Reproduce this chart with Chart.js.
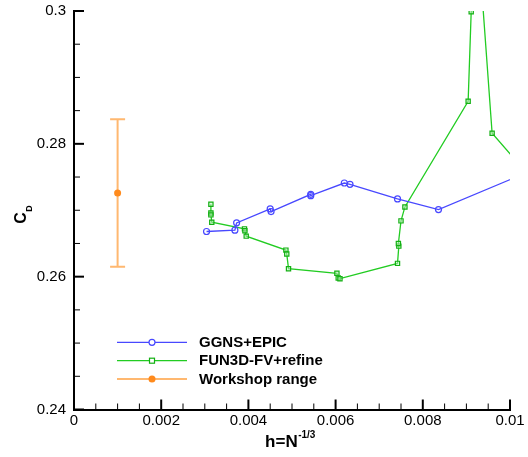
<!DOCTYPE html>
<html>
<head>
<meta charset="utf-8">
<script src="https://cdn.jsdelivr.net/npm/chart.js@4.4.1/dist/chart.umd.min.js"></script>
<style>
  html, body { margin: 0; padding: 0; background: #fff; }
</style>
</head>
<body>
<canvas id="cdChart" width="528" height="457"></canvas>
<script>
// grid spacing h = N^-1/3 and drag coefficient, one pair of arrays per solver
var ggnsH  = [0.00304, 0.00369, 0.00373, 0.00450, 0.00452, 0.00543, 0.00543, 0.00620, 0.00633, 0.00742, 0.00836, 0.01200];
var ggnsCd = [0.2668, 0.2670, 0.2681, 0.2702, 0.2698, 0.2724, 0.2722, 0.2741, 0.2739, 0.2717, 0.2701, 0.2801];

var fun3dH  = [0.00314, 0.00314, 0.00314, 0.00316, 0.00391, 0.00392, 0.00395, 0.00486, 0.00488, 0.00492,
               0.00603, 0.00606, 0.00610, 0.00742, 0.00745, 0.00744, 0.00750, 0.00759, 0.00904, 0.00911,
               0.00932, 0.00959, 0.01150];
var fun3dCd = [0.2709, 0.2696, 0.2693, 0.2682, 0.2672, 0.2669, 0.2661, 0.2640, 0.2634, 0.2612,
               0.2605, 0.2598, 0.2597, 0.2620, 0.2646, 0.2650, 0.2684, 0.2705, 0.2864, 0.2999,
               0.3060, 0.2816, 0.2672];

// workshop mean with its spread
var workshopH    = [0.001];
var workshopCd   = [0.2726];
var workshopLow  = [0.2615];
var workshopHigh = [0.2837];

var hTicks  = [0, 0.002, 0.004, 0.006, 0.008, 0.01];
var cdTicks = [0.24, 0.26, 0.28, 0.3];

var FONT = "'Liberation Sans', Arial, Helvetica, sans-serif";
var BLUE = '#4848ff';
var GREEN = '#22cc22';
var ORANGE_LINE = '#ffb870';
var ORANGE_DOT = '#ff8a1c';

function pts(xs, ys) {
    return xs.map(function (x, i) { return { x: x, y: ys[i] }; });
}

function fmt(v) {
    return String(+v.toFixed(4));
}

// error bar for the workshop range, drawn under the mean marker
var errorBars = {
    id: 'errorBars',
    beforeDatasetsDraw: function (chart) {
        var ctx = chart.ctx, xs = chart.scales.x, ys = chart.scales.y;
        ctx.save();
        ctx.strokeStyle = ORANGE_LINE;
        ctx.lineWidth = 2;
        for (var i = 0; i < workshopH.length; i++) {
            var px = xs.getPixelForValue(workshopH[i]);
            var lo = ys.getPixelForValue(workshopLow[i]);
            var hi = ys.getPixelForValue(workshopHigh[i]);
            ctx.beginPath();
            ctx.moveTo(px, lo); ctx.lineTo(px, hi);
            ctx.moveTo(px - 7.5, lo); ctx.lineTo(px + 7.5, lo);
            ctx.moveTo(px - 7.5, hi); ctx.lineTo(px + 7.5, hi);
            ctx.stroke();
        }
        ctx.restore();
    }
};

// inward major/minor ticks, axis titles and the legend box
var decorations = {
    id: 'decorations',
    afterDraw: function (chart) {
        var ctx = chart.ctx, xs = chart.scales.x, ys = chart.scales.y;
        var area = chart.chartArea;
        ctx.save();
        ctx.strokeStyle = '#000';

        function xTick(v, len, w) {
            var p = xs.getPixelForValue(v);
            ctx.lineWidth = w;
            ctx.beginPath();
            ctx.moveTo(p, area.bottom); ctx.lineTo(p, area.bottom - len);
            ctx.stroke();
        }
        function yTick(v, len, w) {
            var p = ys.getPixelForValue(v);
            ctx.lineWidth = w;
            ctx.beginPath();
            ctx.moveTo(area.left, p); ctx.lineTo(area.left + len, p);
            ctx.stroke();
        }
        var i, k;
        for (i = 0; i < hTicks.length; i++) {
            xTick(hTicks[i], 10, 2);
            if (i < hTicks.length - 1) {
                for (k = 1; k < 4; k++) xTick(hTicks[i] + (hTicks[i + 1] - hTicks[i]) * k / 4, 6, 1);
            }
        }
        for (i = 0; i < cdTicks.length; i++) {
            yTick(cdTicks[i], 10, 2);
            if (i < cdTicks.length - 1) {
                for (k = 1; k < 4; k++) yTick(cdTicks[i] + (cdTicks[i + 1] - cdTicks[i]) * k / 4, 6, 1);
            }
        }

        // x title: h=N^-1/3
        ctx.fillStyle = '#000';
        ctx.textBaseline = 'alphabetic';
        ctx.textAlign = 'left';
        ctx.font = 'bold 17px ' + FONT;
        var main = 'h=N';
        var wMain = ctx.measureText(main).width;
        ctx.font = 'bold 10px ' + FONT;
        var sup = '-1/3';
        var wSup = ctx.measureText(sup).width;
        var cx = (area.left + area.right) / 2 - 2;
        var x0 = cx - (wMain + wSup) / 2;
        ctx.font = 'bold 17px ' + FONT;
        ctx.fillText(main, x0, 446.5);
        ctx.font = 'bold 10px ' + FONT;
        ctx.fillText(sup, x0 + wMain + 0.5, 438);

        // y title: C_D
        ctx.save();
        ctx.translate(25.7, 214);
        ctx.rotate(-Math.PI / 2);
        ctx.font = 'bold 16px ' + FONT;
        var wC = ctx.measureText('C').width;
        ctx.fillText('C', -wC / 2 - 4, 0);
        ctx.font = 'bold 9px ' + FONT;
        ctx.fillText('D', wC / 2 - 3.5, 6);
        ctx.restore();

        // legend
        var rows = [
            { text: 'GGNS+EPIC', color: BLUE, y: 342.3, marker: 'circle' },
            { text: 'FUN3D-FV+refine', color: GREEN, y: 360.7, marker: 'square' },
            { text: 'Workshop range', color: ORANGE_LINE, y: 379, marker: 'dot' }
        ];
        rows.forEach(function (r) {
            ctx.strokeStyle = r.color;
            ctx.lineWidth = r.marker === 'dot' ? 2 : 1.3;
            ctx.beginPath();
            ctx.moveTo(117, r.y); ctx.lineTo(187, r.y);
            ctx.stroke();
            if (r.marker === 'circle') {
                ctx.fillStyle = '#fff';
                ctx.lineWidth = 1.2;
                ctx.beginPath(); ctx.arc(152, r.y, 3, 0, Math.PI * 2); ctx.fill(); ctx.stroke();
            } else if (r.marker === 'square') {
                ctx.fillStyle = '#fff';
                ctx.strokeStyle = '#13b013';
                ctx.lineWidth = 1.2;
                ctx.fillRect(149.5, r.y - 2.5, 5, 5);
                ctx.strokeRect(149.5, r.y - 2.5, 5, 5);
            } else {
                ctx.fillStyle = ORANGE_DOT;
                ctx.beginPath(); ctx.arc(152, r.y, 3.5, 0, Math.PI * 2); ctx.fill();
            }
            ctx.fillStyle = '#000';
            ctx.font = 'bold 15px ' + FONT;
            ctx.fillText(r.text, 199, r.y + 4.5);
        });
        ctx.restore();
    }
};

var ctx = document.getElementById('cdChart').getContext('2d');
var cdChart = new Chart(ctx, {
    type: 'scatter',
    data: {
        datasets: [{
            label: 'GGNS+EPIC',
            data: pts(ggnsH, ggnsCd),
            showLine: true,
            borderColor: BLUE,
            borderWidth: 1.3,
            pointStyle: 'circle',
            pointRadius: 3,
            pointBorderWidth: 1.2,
            pointBorderColor: BLUE,
            pointBackgroundColor: 'rgba(255,255,255,0)',
            clip: 0
        }, {
            label: 'FUN3D-FV+refine',
            data: pts(fun3dH, fun3dCd),
            showLine: true,
            borderColor: GREEN,
            borderWidth: 1.3,
            pointStyle: 'rect',
            pointRadius: 3,
            pointBorderWidth: 1.2,
            pointBorderColor: '#13b013',
            pointBackgroundColor: 'rgba(190,240,190,0.5)',
            clip: 0
        }, {
            label: 'Workshop range',
            data: pts(workshopH, workshopCd),
            showLine: false,
            pointStyle: 'circle',
            pointRadius: 3.5,
            pointBorderWidth: 0,
            pointBackgroundColor: ORANGE_DOT,
            clip: 0
        }]
    },
    options: {
        responsive: false,
        animation: false,
        events: [],
        layout: { padding: { left: 0, right: 18, top: 11, bottom: 0 } },
        plugins: {
            legend: { display: false },
            tooltip: { enabled: false }
        },
        scales: {
            x: {
                type: 'linear',
                min: 0,
                max: 0.01,
                grid: { display: false, drawTicks: false },
                border: { display: true, color: '#000', width: 2 },
                afterBuildTicks: function (s) { s.ticks = hTicks.map(function (v) { return { value: v }; }); },
                afterFit: function (s) {
                    s.height = 47.5;
                    s.paddingLeft = 0;
                    s.paddingRight = 0;
                },
                ticks: {
                    padding: 2,
                    maxRotation: 0,
                    color: '#000',
                    font: { family: FONT, size: 15 },
                    callback: function (v) { return fmt(v); }
                }
            },
            y: {
                type: 'linear',
                min: 0.24,
                max: 0.3,
                grid: { display: false, drawTicks: false },
                border: { display: true, color: '#000', width: 2 },
                afterBuildTicks: function (s) { s.ticks = cdTicks.map(function (v) { return { value: v }; }); },
                afterFit: function (s) {
                    s.width = 74;
                    s.paddingTop = 0;
                    s.paddingBottom = 0;
                },
                ticks: {
                    padding: 8,
                    color: '#000',
                    font: { family: FONT, size: 15 },
                    callback: function (v) { return fmt(v); }
                }
            }
        }
    },
    plugins: [errorBars, decorations]
});
</script>
</body>
</html>
